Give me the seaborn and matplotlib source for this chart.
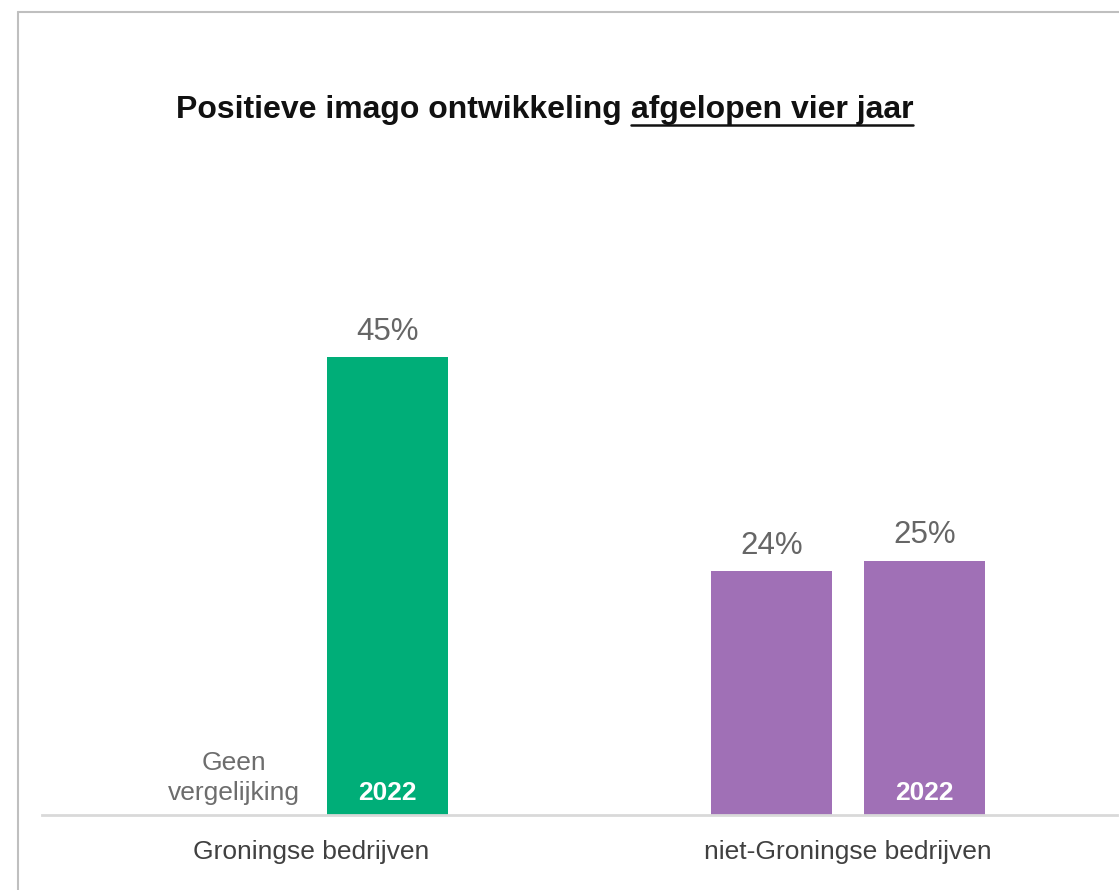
import numpy as np
import pandas as pd
import matplotlib.pyplot as plt
import seaborn as sns
from matplotlib.lines import Line2D

# Data uit de grafiek
groepen = ['Groningse bedrijven', 'niet-Groningse bedrijven']
metingen = ['vorige meting', '2022']
waarden_vorige = [np.nan, 24]
waarden_2022 = [45, 25]
kleuren = ['#00AE78', '#A070B6']

titel_deel1 = 'Positieve imago ontwikkeling'
titel_deel2 = 'afgelopen vier jaar'

sns.set_style('white')
plt.rcParams['font.family'] = ['Liberation Sans', 'DejaVu Sans']

df = pd.DataFrame({
    'groep': groepen * 2,
    'meting': [metingen[0]] * 2 + [metingen[1]] * 2,
    'waarde': waarden_vorige + waarden_2022,
})

W, H = 1119, 890
fig = plt.figure(figsize=(W / 100, H / 100), dpi=100)
ax = fig.add_axes([42 / W, 75 / H, 1075 / W, 509 / H])

sns.barplot(data=df, x='groep', y='waarde', hue='meting', order=groepen,
            hue_order=metingen, width=0.57, gap=0.21, legend=False,
            errorbar=None, ax=ax)

ax.set_xlim(-0.5, 1.5)
ax.set_ylim(0, 50)

# kleuren per groep en labels
for p in ax.patches:
    h = p.get_height()
    if np.isnan(h) or h == 0:
        continue
    cx = p.get_x() + p.get_width() / 2
    gi = int(round(cx))
    p.set_facecolor(kleuren[gi])
    p.set_edgecolor('none')
    ax.text(cx, h + 1.0, f'{h:.0f}%', ha='center', va='bottom',
            fontsize=22.5, color='#666666')
    if cx > gi:
        ax.text(cx, 2.2, metingen[1], ha='center', va='center',
                fontsize=19, fontweight='bold', color='white')

# lege plek bij Groningse bedrijven
ax.text(-0.1425, 1.0, 'Geen\nvergelijking', ha='center', va='bottom',
        fontsize=19, color='#6d6d6d', linespacing=1.3)

for s in ['top', 'right', 'left']:
    ax.spines[s].set_visible(False)
ax.spines['bottom'].set_color('#d9d9d9')
ax.spines['bottom'].set_linewidth(2)
ax.set_yticks([])
ax.tick_params(axis='x', length=0, pad=18, labelsize=19, labelcolor='#404040')
ax.set_xlabel('')
ax.set_ylabel('')

# titel met onderstreept deel
t1 = fig.text(176 / W, (H - 118) / H, titel_deel1, fontsize=23,
              fontweight='bold', color='#111111', va='baseline', ha='left')
fig.canvas.draw()
r = fig.canvas.get_renderer()
bb1 = t1.get_window_extent(r)
x2 = bb1.x1 + 9
t2 = fig.text(x2 / W, (H - 118) / H, titel_deel2, fontsize=23,
              fontweight='bold', color='#111111', va='baseline', ha='left')
fig.canvas.draw()
bb2 = t2.get_window_extent(r)
fig.add_artist(Line2D([bb2.x0 / W, bb2.x1 / W], [(H - 125) / H, (H - 125) / H],
                      transform=fig.transFigure, color='#111111', lw=1.8))

# rand
fig.add_artist(Line2D([18 / W, 18 / W], [0, (H - 12) / H],
                      transform=fig.transFigure, color='#bfbfbf', lw=1.5))
fig.add_artist(Line2D([18 / W, 1], [(H - 12) / H, (H - 12) / H],
                      transform=fig.transFigure, color='#bfbfbf', lw=1.5))

fig.savefig('out.png', dpi=100)
